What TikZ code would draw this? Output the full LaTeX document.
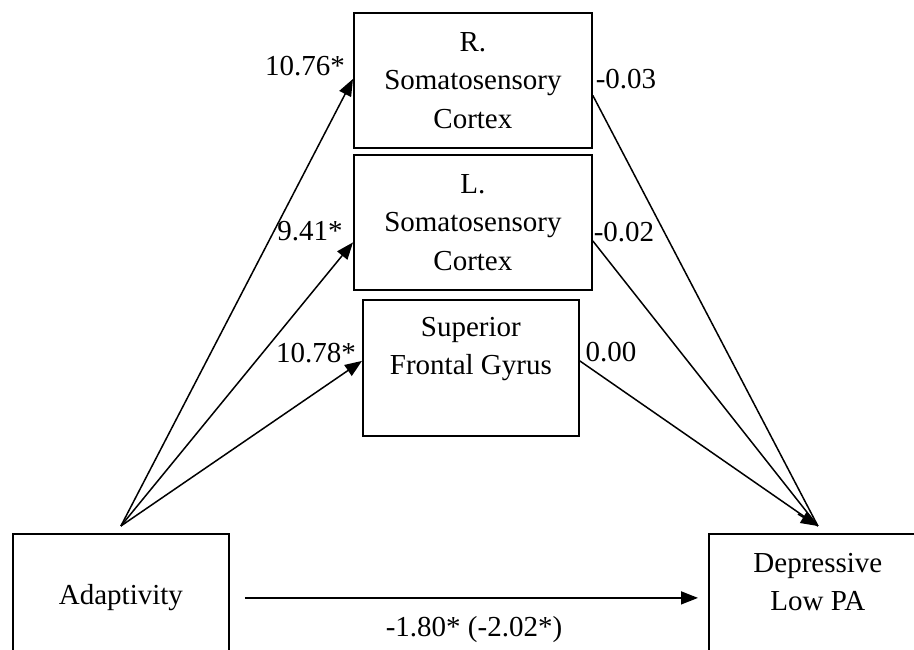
\documentclass[tikz,border=0pt]{standalone}
\usepackage{fontspec}
\setmainfont{Liberation Serif}
\usetikzlibrary{arrows.meta,calc}
\begin{document}
\begin{tikzpicture}[x=1pt,y=-1pt,
  box/.style={draw,line width=1.8pt,rectangle,inner sep=0pt,anchor=north west},
  txt/.style={inner sep=0pt,align=center,font=\fontsize{29}{38.5}\selectfont},
  lbl/.style={inner sep=0pt,font=\fontsize{29}{38.5}\selectfont},
  arr/.style={line width=1.5pt,-{Triangle[length=17pt,width=13pt]}},
  ln/.style={line width=1.5pt}]
\useasboundingbox (0,0) rectangle (914,649);
\clip (0,0) rectangle (914,649);
% boxes
\node[box,minimum width=238pt,minimum height=135pt] (R) at (353,12) {};
\node[box,minimum width=238pt,minimum height=135pt] (L) at (353,154) {};
\node[box,minimum width=216pt,minimum height=136pt] (S) at (362,299) {};
\node[box,minimum width=216pt,minimum height=128pt] (A) at (12,533) {};
\node[box,minimum width=218pt,minimum height=128pt] (D) at (708,533) {};
% texts
\node[txt] (Rt) at (R.center) {R.\\Somatosensory\\Cortex};
\node[txt] (Lt) at (L.center) {L.\\Somatosensory\\Cortex};
\node[txt] (St) at ([yshift=19pt]S.center) {Superior\\Frontal Gyrus};
\node[txt] (At) at (A.center) {Adaptivity};
\node[txt] (Dt) at ([yshift=16pt]D.center) {Depressive\\Low PA};
% connection points
\coordinate (apex) at ([yshift=7pt]A.north);
\coordinate (sink) at ([yshift=7pt]D.north);
% arrows
\draw[arr] (apex) -- ([yshift=1.5pt]R.west);
\draw[arr] (apex) -- ([yshift=-20pt]L.west);
\draw[arr] (apex) -- ([yshift=7pt]S.west);
\draw[ln] ([yshift=-15pt]R.east) -- (sink);
\draw[ln] ([yshift=-18.5pt]L.east) -- (sink);
\draw[ln] ([yshift=7pt]S.east) -- (sink);
\draw[arr] (sink) ++(-20,-12) -- (sink);
\draw[arr] ([xshift=15pt]A.east) -- ([xshift=-10pt]D.west);
% labels
\node[lbl] (l1) at (305,66) {10.76*};
\node[lbl] (l2) at (626,79) {-0.03};
\node[lbl] (l3) at (310,231) {9.41*};
\node[lbl] (l4) at (624,232) {-0.02};
\node[lbl] (l5) at (316,353) {10.78*};
\node[lbl] (l6) at (611,352) {0.00};
\node[lbl] (l7) at (474,630) {-1.80* (-2.02*)};
\end{tikzpicture}
\end{document}
